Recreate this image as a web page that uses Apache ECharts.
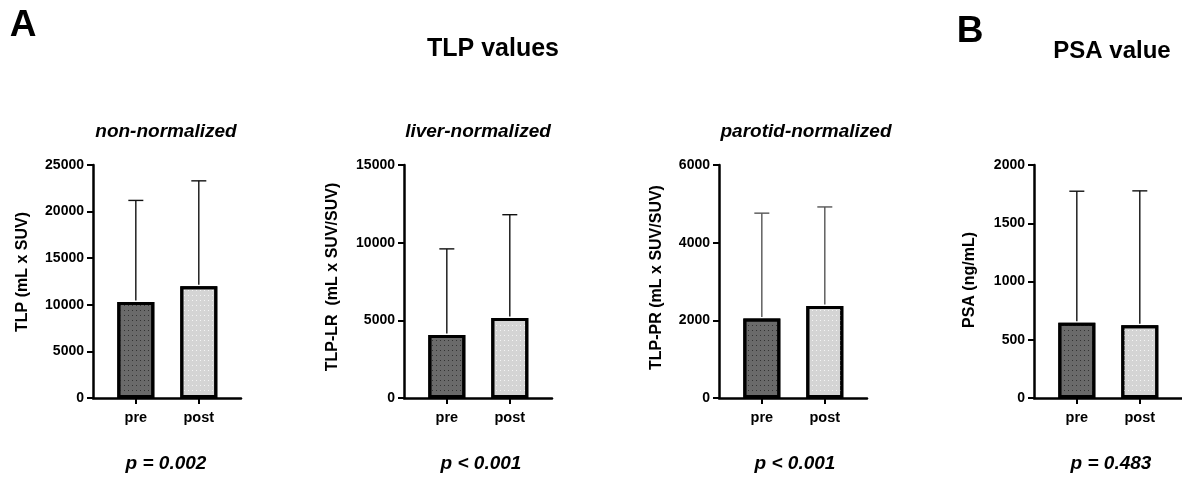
<!DOCTYPE html>
<html>
<head>
<meta charset="utf-8">
<script src="https://cdn.jsdelivr.net/npm/echarts@6/dist/echarts.min.js"></script>
<style>
html,body{margin:0;padding:0;background:#fff;}
#chart{width:1182px;height:478px;}
</style>
</head>
<body>
<div id="chart"></div>
<script>
// ---- data ----
const categories = ['pre', 'post'];
const tlpMean = [10300, 12000];
const tlpUpper = [21200, 23300];
const lrMean = [4050, 5150];
const lrUpper = [9600, 11800];
const prMean = [2050, 2370];
const prUpper = [4760, 4920];
const psaMean = [645, 625];
const psaUpper = [1775, 1778];
const yMaxes = [25000, 15000, 6000, 2000];
const yIntervals = [5000, 5000, 2000, 500];
const yNames = ['TLP (mL x SUV)', 'TLP-LR  (mL x SUV/SUV)', 'TLP-PR (mL x SUV/SUV)', 'PSA (ng/mL)'];
const subTitles = ['non-normalized', 'liver-normalized', 'parotid-normalized', ''];
const pValues = ['p = 0.002', 'p < 0.001', 'p < 0.001', 'p = 0.483'];

const means = [tlpMean, lrMean, prMean, psaMean];
const uppers = [tlpUpper, lrUpper, prUpper, psaUpper];

// ---- layout ----
const FONT = '"Liberation Sans", Arial, sans-serif';
const gridLefts = [93, 404, 719, 1034];
const gridW = 148, gridTop = 165, gridH = 233;
const yNameX = [23, 333, 656.5, 970];
const yNameY = [272, 277, 277.5, 280];
const subX = [166, 478, 806, 0];
const pX = [166, 481, 795, 1111];
const errColors = ['#111', '#111', '#555', '#111'];

const preStyle = {
  color: '#6a6a6a', borderColor: '#000', borderWidth: 3,
  decal: { symbol: 'rect', symbolSize: 1, dashArrayX: [1, 3], dashArrayY: [1, 3.5], color: '#333', rotation: 0 }
};
const postStyle = {
  color: '#d4d4d4', borderColor: '#000', borderWidth: 3,
  decal: { symbol: 'rect', symbolSize: 1, dashArrayX: [1, 3], dashArrayY: [1, 3.5], color: '#f4f4f4', rotation: 0 }
};

const grids = [], xAxes = [], yAxes = [], series = [];
for (let i = 0; i < 4; i++) {
  grids.push({ left: gridLefts[i], top: gridTop, width: gridW, height: gridH, containLabel: false });
  xAxes.push({
    type: 'value', gridIndex: i, min: -0.68, max: 1.67,
    axisLine: { show: true, onZero: false, lineStyle: { color: '#000', width: 2.5 } },
    axisTick: { show: true, customValues: [0, 1], length: 6, lineStyle: { color: '#000', width: 2 } },
    axisLabel: { show: true, customValues: [0, 1], margin: 12, color: '#000', fontWeight: 'bold', fontSize: 14.5, fontFamily: FONT,
      formatter: v => categories[Math.round(v)] || '' },
    splitLine: { show: false }
  });
  yAxes.push({
    type: 'value', gridIndex: i, min: 0, max: yMaxes[i], interval: yIntervals[i],
    axisLine: { show: true, onZero: false, lineStyle: { color: '#000', width: 2.5 } },
    axisTick: { show: true, length: 6, lineStyle: { color: '#000', width: 2 } },
    axisLabel: { color: '#000', fontWeight: 'bold', fontSize: 14, fontFamily: FONT, margin: 9,
      formatter: v => String(v) },
    splitLine: { show: false }
  });
  series.push({
    type: 'bar', xAxisIndex: i, yAxisIndex: i, barWidth: 37, z: 2,
    data: means[i].map((m, k) => ({ value: [k, m], itemStyle: k === 0 ? preStyle : postStyle }))
  });
  const col = errColors[i];
  series.push({
    type: 'custom', xAxisIndex: i, yAxisIndex: i, z: 3,
    encode: { x: 0, y: [1, 2] },
    data: means[i].map((m, k) => [k, m, uppers[i][k]]),
    renderItem: function (params, api) {
      const x = api.value(0);
      const p0 = api.coord([x, api.value(1)]);
      const p1 = api.coord([x, api.value(2)]);
      const st = { stroke: col, lineWidth: 1.4 };
      return {
        type: 'group',
        children: [
          { type: 'line', shape: { x1: p0[0], y1: p0[1] - 1.5, x2: p1[0], y2: p1[1] }, style: st },
          { type: 'line', shape: { x1: p1[0] - 7.5, y1: p1[1], x2: p1[0] + 7.5, y2: p1[1] }, style: st }
        ]
      };
    }
  });
}

const texts = [];
function txt(t, x, y, size, weight, style, rot) {
  texts.push({ type: 'text', x: x, y: y, rotation: rot || 0, silent: true,
    style: { text: t, fill: '#000', font: (style || 'normal') + ' ' + weight + ' ' + size + 'px ' + FONT,
      textAlign: 'center', textVerticalAlign: 'middle' } });
}
txt('A', 23, 26, 37, 'bold');
txt('TLP values', 493, 49, 25, 'bold');
txt('B', 970, 32, 37, 'bold');
txt('PSA value', 1112, 51, 24, 'bold');
for (let i = 0; i < 4; i++) {
  if (subTitles[i]) txt(subTitles[i], subX[i], 132, 19, 'bold', 'italic');
  txt(pValues[i], pX[i], 464, 19, 'bold', 'italic');
  txt(yNames[i], yNameX[i], yNameY[i], 16, 'bold', 'normal', Math.PI / 2);
}

const chart = echarts.init(document.getElementById('chart'), null, { renderer: 'canvas' });
chart.setOption({
  animation: false,
  backgroundColor: '#fff',
  grid: grids, xAxis: xAxes, yAxis: yAxes, series: series,
  graphic: texts
});
</script>
</body>
</html>
